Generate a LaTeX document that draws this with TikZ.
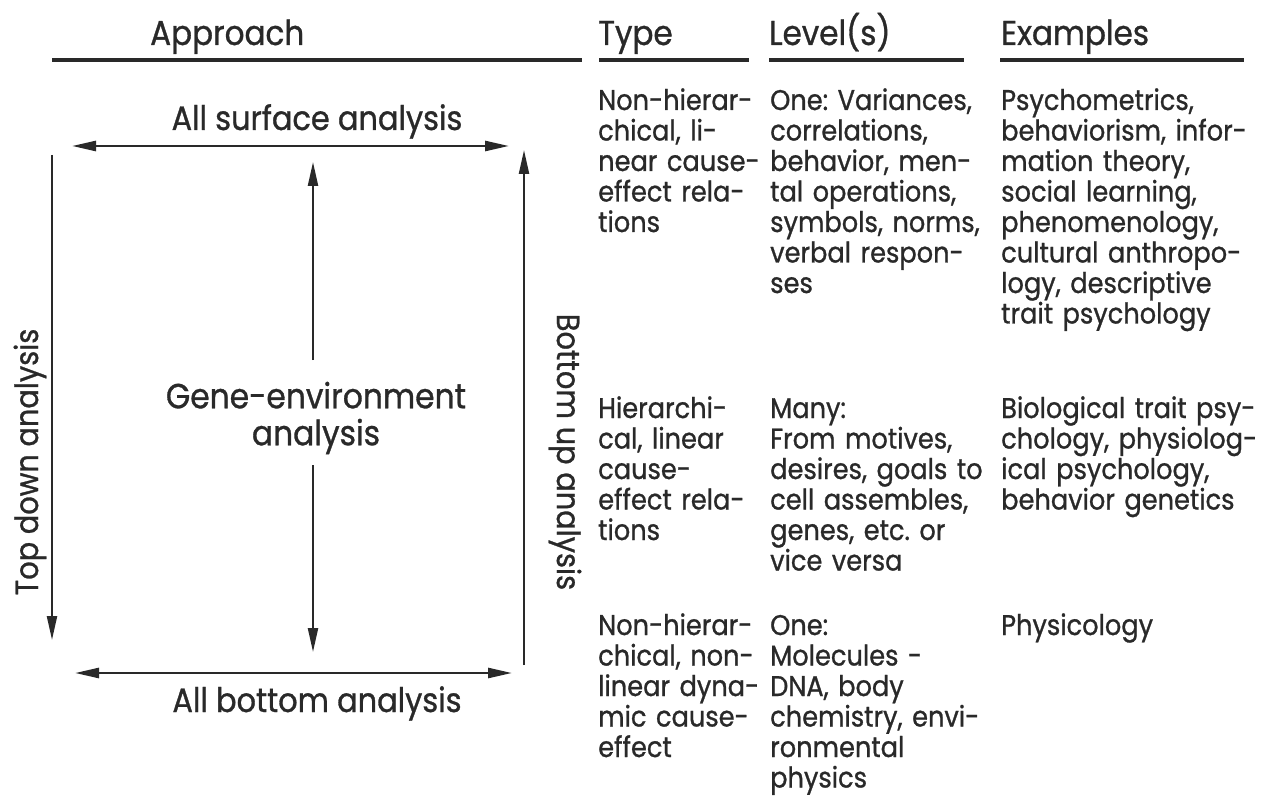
\documentclass[tikz,border=0pt]{standalone}
\usepackage{fontspec}
\setmainfont[FakeStretch=0.9,FakeBold=0.9]{Poppins}
\usetikzlibrary{arrows.meta}
\definecolor{ink}{gray}{0.16}
\begin{document}
\frenchspacing
\begin{tikzpicture}[x=1pt,y=-1pt,
  every node/.style={inner sep=0pt,text=ink},
  big/.style={font=\fontsize{33.8}{38}\selectfont},
  side/.style={font=\fontsize{32}{36}\selectfont},
  head/.style={font=\fontsize{34.5}{38}\selectfont,anchor=base west},
  cell/.style={font=\fontsize{28.5}{30.5}\selectfont,anchor=base west,align=left,text width=280pt},
  rule/.style={draw=ink,line width=4.5pt},
  arr/.style={draw=ink,line width=2.2pt,-{Triangle[length=24pt,width=10pt]}},
  darr/.style={draw=ink,line width=2.6pt,{Triangle[length=24pt,width=10pt]}-{Triangle[length=24pt,width=10pt]}}]
\useasboundingbox[fill=white] (0,0) rectangle (1276,799);
% headers
\node[head] (hA) at (150,45) {Approach};
\node[head] (hT) at (598,45) {Type};
\node[head] (hL) at (769,45) {Level(s)};
\node[head] (hE) at (1001,45) {Examples};
\coordinate (rA1) at (52,60); \coordinate (rA2) at (582,60);
\coordinate (rT1) at (599,60); \coordinate (rT2) at (749,60);
\coordinate (rL1) at (769,60); \coordinate (rL2) at (964,60);
\coordinate (rE1) at (1000,60); \coordinate (rE2) at (1244,60);
\draw[rule] (rA1) -- (rA2);
\draw[rule] (rT1) -- (rT2);
\draw[rule] (rL1) -- (rL2);
\draw[rule] (rE1) -- (rE2);
% left diagram
\node[big,anchor=base] (surf) at (317,130) {All surface analysis};
\node[big,anchor=base] (bott) at (317,712) {All bottom analysis};
\node[big,align=center,font=\fontsize{34.8}{37}\selectfont] (gene) at (316,418) {Gene-environment\\analysis};
\node[side,rotate=90] (topd) at (30,462) {Top down analysis};
\node[side,rotate=-90] (botu) at (565,452) {Bottom up analysis};
\coordinate (tL) at (72,146); \coordinate (tR) at (509,146);
\coordinate (bL) at (75,673); \coordinate (bR) at (512,673);
\coordinate (lT) at (52,155); \coordinate (lB) at (52,640);
\coordinate (rB) at (524,665); \coordinate (rT) at (524,150);
\coordinate (mT1) at (313,360); \coordinate (mT2) at (313,162);
\coordinate (mB1) at (313,465); \coordinate (mB2) at (313,652);
\draw[darr] (tL) -- (tR);
\draw[darr] (bL) -- (bR);
\draw[arr] (lT) -- (lB);
\draw[arr] (rB) -- (rT);
\draw[arr] (mT1) -- (mT2);
\draw[arr] (mB1) -- (mB2);
% table
\node[cell] (t1) at (598,110) {Non-hierar-\\chical, li-\\near cause-\\effect rela-\\tions};
\node[cell] (l1) at (770,110) {One: Variances,\\correlations,\\behavior, men-\\tal operations,\\symbols, norms,\\verbal respon-\\ses};
\node[cell] (e1) at (1001,110) {Psychometrics,\\behaviorism, infor-\\mation theory,\\social learning,\\phenomenology,\\cultural anthropo-\\logy, descriptive\\trait psychology};
\node[cell] (t2) at (598,418) {Hierarchi-\\cal, linear\\cause-\\effect rela-\\tions};
\node[cell] (l2) at (770,418) {Many:\\From motives,\\desires, goals to\\cell assembles,\\genes, etc. or\\vice versa};
\node[cell] (e2) at (1001,418) {Biological trait psy-\\chology, physiolog-\\ical psychology,\\behavior genetics};
\node[cell] (t3) at (598,635) {Non-hierar-\\chical, non-\\linear dyna-\\mic cause-\\effect};
\node[cell] (l3) at (770,635) {One:\\Molecules -\\DNA, body\\chemistry, envi-\\ronmental\\physics};
\node[cell] (e3) at (1001,635) {Physicology};
\end{tikzpicture}
\end{document}
